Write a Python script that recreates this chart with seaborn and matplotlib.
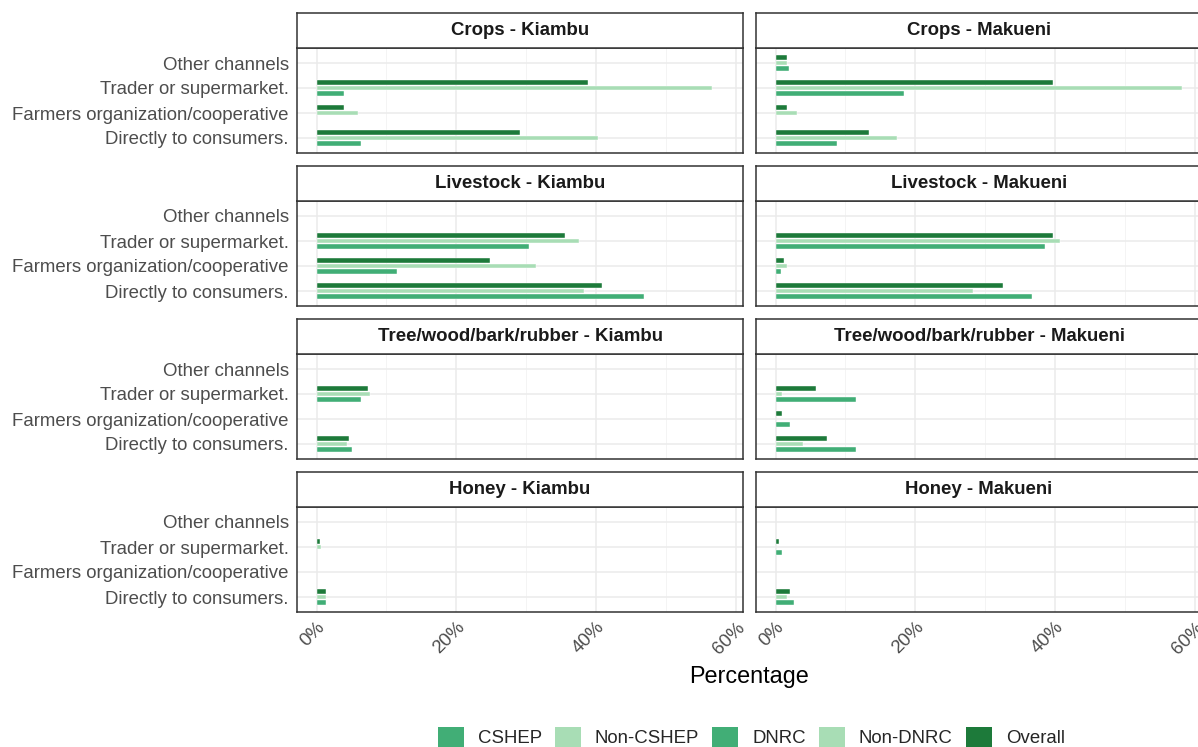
import numpy as np
import pandas as pd
import matplotlib
matplotlib.use("Agg")
import matplotlib.pyplot as plt
import seaborn as sns
from matplotlib.patches import Patch
from matplotlib.ticker import FixedLocator, FuncFormatter

nan = np.nan

# Categories
channels = ["Other channels", "Trader or supermarket.",
            "Farmers organization/cooperative", "Directly to consumers."]
products = ["Crops", "Livestock", "Tree/wood/bark/rubber", "Honey"]
counties = ["Kiambu", "Makueni"]
county_groups = {"Kiambu": "CSHEP", "Makueni": "DNRC"}
legend_labels = ["CSHEP", "Non-CSHEP", "DNRC", "Non-DNRC", "Overall"]

# Values (%) in the order of `channels`; nan = no bar
crops_kiambu_overall = [nan, 38.8, 3.9, 29.1]
crops_kiambu_non = [nan, 56.6, 5.9, 40.2]
crops_kiambu_group = [nan, 3.9, nan, 6.4]
crops_makueni_overall = [1.7, 39.7, 1.7, 13.3]
crops_makueni_non = [1.6, 58.1, 3.1, 17.4]
crops_makueni_group = [1.9, 18.4, nan, 8.8]

livestock_kiambu_overall = [nan, 35.5, 24.8, 40.8]
livestock_kiambu_non = [nan, 37.6, 31.4, 38.3]
livestock_kiambu_group = [nan, 30.4, 11.5, 46.8]
livestock_makueni_overall = [nan, 39.7, 1.2, 32.6]
livestock_makueni_non = [nan, 40.7, 1.6, 28.3]
livestock_makueni_group = [nan, 38.6, 0.8, 36.7]

tree_kiambu_overall = [nan, 7.3, nan, 4.6]
tree_kiambu_non = [nan, 7.6, nan, 4.4]
tree_kiambu_group = [nan, 6.4, nan, 5.1]
tree_makueni_overall = [nan, 5.8, 0.9, 7.4]
tree_makueni_non = [nan, 0.9, nan, 3.9]
tree_makueni_group = [nan, 11.5, 2.0, 11.5]

honey_kiambu_overall = [nan, 0.5, nan, 1.4]
honey_kiambu_non = [nan, 0.7, nan, 1.4]
honey_kiambu_group = [nan, nan, nan, 1.4]
honey_makueni_overall = [nan, 0.5, nan, 2.1]
honey_makueni_non = [nan, nan, nan, 1.6]
honey_makueni_group = [nan, 0.9, nan, 2.6]

series = {
    ("Crops", "Kiambu"): (crops_kiambu_overall, crops_kiambu_non, crops_kiambu_group),
    ("Crops", "Makueni"): (crops_makueni_overall, crops_makueni_non, crops_makueni_group),
    ("Livestock", "Kiambu"): (livestock_kiambu_overall, livestock_kiambu_non, livestock_kiambu_group),
    ("Livestock", "Makueni"): (livestock_makueni_overall, livestock_makueni_non, livestock_makueni_group),
    ("Tree/wood/bark/rubber", "Kiambu"): (tree_kiambu_overall, tree_kiambu_non, tree_kiambu_group),
    ("Tree/wood/bark/rubber", "Makueni"): (tree_makueni_overall, tree_makueni_non, tree_makueni_group),
    ("Honey", "Kiambu"): (honey_kiambu_overall, honey_kiambu_non, honey_kiambu_group),
    ("Honey", "Makueni"): (honey_makueni_overall, honey_makueni_non, honey_makueni_group),
}

rows = []
for (prod, county), (ov, non, grp) in series.items():
    g = county_groups[county]
    for name, vals in [("Overall", ov), ("Non-" + g, non), (g, grp)]:
        for ch, v in zip(channels, vals):
            rows.append({"product": prod, "county": county, "channel": ch,
                         "group": name, "value": v})
df = pd.DataFrame(rows).dropna()

palette = {"CSHEP": "#41ae76", "Non-CSHEP": "#a8ddb5",
           "DNRC": "#41ae76", "Non-DNRC": "#a8ddb5", "Overall": "#1d7a3a"}

sns.set_style("white")
plt.rcParams["font.family"] = ["Liberation Sans", "DejaVu Sans"]

W, H = 1198, 747
fig = plt.figure(figsize=(W / 100, H / 100), dpi=100)

col_left = [297, 756]
panel_w = 446
border = "#333333"
grid_c = "#ebebeb"

for r, prod in enumerate(products):
    strip_top = 13 + 153 * r
    panel_top = 48 + 153 * r
    panel_h = 105
    for c, county in enumerate(counties):
        x0 = col_left[c]
        ax = fig.add_axes([x0 / W, 1 - (panel_top + panel_h) / H, panel_w / W, panel_h / H])
        sax = fig.add_axes([x0 / W, 1 - panel_top / H, panel_w / W, (panel_top - strip_top) / H])
        g = county_groups[county]
        sub = df[(df["product"] == prod) & (df["county"] == county)]
        sns.barplot(data=sub, x="value", y="channel", hue="group", order=channels,
                    hue_order=["Overall", "Non-" + g, g], palette=palette,
                    orient="h", width=0.68, gap=0.15, errorbar=None, legend=False,
                    saturation=1, edgecolor="white", linewidth=0.3, ax=ax)
        ax.set_xlim(-2.8, 61.0)
        ax.set_ylim(3.6, -0.6)
        ax.set_xlabel("")
        ax.set_ylabel("")
        ax.xaxis.set_major_locator(FixedLocator([0, 20, 40, 60]))
        ax.xaxis.set_minor_locator(FixedLocator([10, 30, 50]))
        ax.xaxis.set_major_formatter(FuncFormatter(lambda v, p: f"{v:.0f}%"))
        ax.set_axisbelow(True)
        ax.grid(True, which="major", axis="both", color=grid_c, lw=1.1)
        ax.grid(True, which="minor", axis="x", color="#f3f3f3", lw=0.6)
        for s in ax.spines.values():
            s.set_color(border)
            s.set_linewidth(1.1)
        if c == 0:
            ax.tick_params(axis="y", length=4, width=1, color=border, pad=2,
                           labelsize=13.4, labelcolor="#4d4d4d")
        else:
            ax.tick_params(axis="y", length=0, labelleft=False)
        if r == len(products) - 1:
            ax.tick_params(axis="x", which="major", length=4, width=1, color=border,
                           pad=1, labelsize=13.4, labelcolor="#4d4d4d")
            ax.tick_params(axis="x", which="minor", length=0)
            for lab in ax.get_xticklabels():
                lab.set_rotation(45)
                lab.set_ha("right")
                lab.set_va("top")
                lab.set_rotation_mode("anchor")
        else:
            ax.tick_params(axis="x", which="both", length=0, labelbottom=False)

        sax.set_facecolor("white")
        sax.set_xticks([])
        sax.set_yticks([])
        for s in sax.spines.values():
            s.set_color(border)
            s.set_linewidth(1.1)
        sax.text(0.5, 0.5, f"{prod} - {county}", transform=sax.transAxes,
                 ha="center", va="center", fontsize=13.4, fontweight="bold",
                 color="#1a1a1a")

fig.text(749 / W, 1 - 676 / H, "Percentage", ha="center", va="center",
         fontsize=16.8, color="black")

handles = [Patch(facecolor=palette[l], edgecolor="none") for l in legend_labels]
fig.legend(handles, legend_labels, loc="center", bbox_to_anchor=(0.627, 0.013),
           ncol=5, frameon=False, fontsize=13.4, handlelength=1.4, handleheight=1.4,
           columnspacing=0.7, handletextpad=0.75, borderpad=0.2)

fig.savefig("out.png", dpi=100)
